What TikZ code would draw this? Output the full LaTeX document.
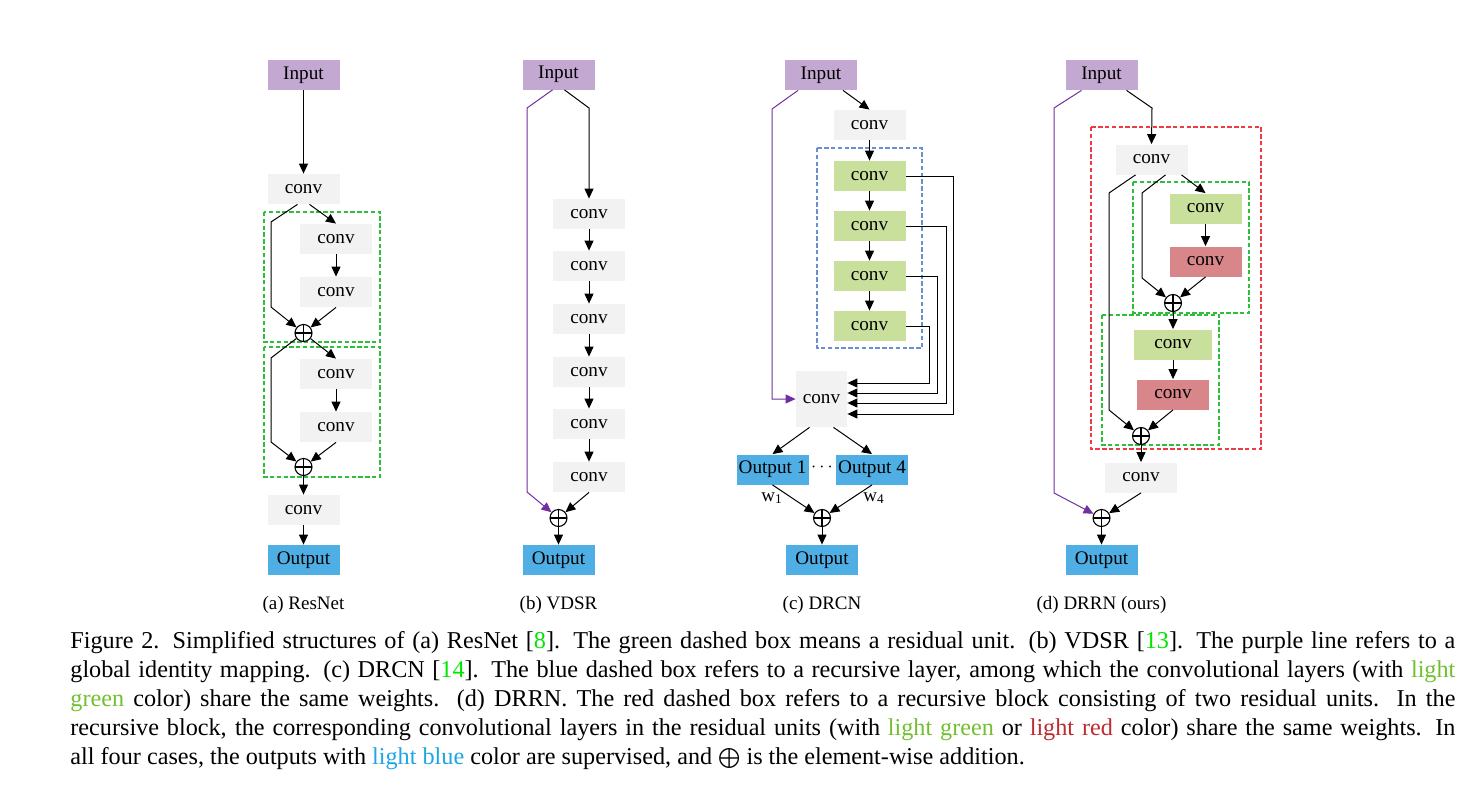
\documentclass[tikz,border=0pt]{standalone}
\usepackage{fontspec}
\setmainfont{Liberation Serif}
\usetikzlibrary{arrows.meta}
\definecolor{inputc}{HTML}{C3A8D1}
\definecolor{convc}{HTML}{F2F2F2}
\definecolor{shgreen}{HTML}{C9E09C}
\definecolor{shred}{HTML}{D9868A}
\definecolor{outc}{HTML}{4FAEE3}
\definecolor{purp}{HTML}{7030A0}
\definecolor{unitgreen}{HTML}{2DBE3A}
\definecolor{layerblue}{HTML}{6A8FD0}
\definecolor{blockred}{HTML}{EE3B45}
\definecolor{refgreen}{HTML}{00E600}
\definecolor{txgreen}{HTML}{72BF2F}
\definecolor{txred}{HTML}{BE2A2E}
\definecolor{txblue}{HTML}{1FA5E6}
\tikzset{
  blk/.style={minimum width=36pt,minimum height=15pt,inner sep=0pt,font=\fontsize{9.6}{11}\selectfont},
  inbox/.style={blk,fill=inputc},
  convbox/.style={blk,fill=convc},
  gconv/.style={blk,fill=shgreen},
  rconv/.style={blk,fill=shred},
  outbox/.style={blk,fill=outc},
  addnode/.style={circle,draw,line width=0.55pt,minimum size=8.5pt,inner sep=0pt,
    path picture={\draw[line width=0.55pt] (path picture bounding box.north) -- (path picture bounding box.south)
      (path picture bounding box.west) -- (path picture bounding box.east);}},
  arr/.style={line width=0.5pt,-{Triangle[length=5pt,width=4.5pt]}},
  parr/.style={arr,draw=purp,-{Triangle[length=5pt,width=4.5pt,fill=purp]}},
  unitbox/.style={draw=unitgreen,line width=0.6pt,dash pattern=on 2.2pt off 1.2pt},
  layerbox/.style={draw=layerblue,line width=0.6pt,dash pattern=on 2.2pt off 1.2pt},
  blockbox/.style={draw=blockred,line width=0.6pt,dash pattern=on 2.2pt off 1.2pt},
  subcap/.style={anchor=base,font=\fontsize{9.5}{11}\selectfont},
  caption/.style={anchor=base west,inner sep=0pt,font=\fontsize{12.1}{14.5}\selectfont}
}
\newcommand{\capline}[1]{\makebox[692.5pt][s]{#1}}
\begin{document}
\begin{tikzpicture}[x=0.5pt,y=-0.5pt]
\useasboundingbox (0,0) rectangle (1476,787);

% ---------- (a) ResNet ----------
\draw[unitbox] (264,212) rectangle (380,342);
\draw[unitbox] (264,347) rectangle (380,477);
\node[inbox] (a_in) at (303.5,75) {Input};
\node[convbox] (a_c1) at (303.5,189) {conv};
\node[convbox] (a_c2) at (336,239) {conv};
\node[convbox] (a_c3) at (336,292) {conv};
\node[addnode] (a_p1) at (303.5,333) {};
\node[convbox] (a_c4) at (336,374) {conv};
\node[convbox] (a_c5) at (336,427) {conv};
\node[addnode] (a_p2) at (303.5,467) {};
\node[convbox] (a_c6) at (303.5,510) {conv};
\node[outbox] (a_out) at (303.5,560) {Output};
\draw[arr] (a_in) -- (a_c1);
\draw[arr] ([xshift=3pt]a_c1.south) -- (a_c2.north);
\draw[arr] ([xshift=-3pt]a_c1.south) -- (271,222) -- (271,307) -- (a_p1);
\draw[arr] (a_c2) -- (a_c3);
\draw[arr] (a_c3.south) -- (a_p1);
\draw[arr] (a_p1) -- (a_c4.north);
\draw[arr] (a_p1) -- (271,358) -- (271,442) -- (a_p2);
\draw[arr] (a_c4) -- (a_c5);
\draw[arr] (a_c5.south) -- (a_p2);
\draw[arr] (a_p2) -- (a_c6);
\draw[arr] (a_c6) -- (a_out);
\node[subcap] (a_cap) at (303.5,609) {(a) ResNet};

% ---------- (b) VDSR ----------
\node[inbox] (b_in) at (558.5,74.5) {Input};
\node[convbox] (b_c1) at (589,214) {conv};
\node[convbox] (b_c2) at (589,266) {conv};
\node[convbox] (b_c3) at (589,319) {conv};
\node[convbox] (b_c4) at (589,372) {conv};
\node[convbox] (b_c5) at (589,424) {conv};
\node[convbox] (b_c6) at (589,477) {conv};
\node[addnode] (b_p) at (558.5,518) {};
\node[outbox] (b_out) at (558.5,560) {Output};
\draw[arr] ([xshift=3pt]b_in.south) -- (589,108) -- (b_c1.north);
\draw[parr] ([xshift=-3pt]b_in.south) -- (527,108) -- (527,492) -- (b_p);
\draw[arr] (b_c1) -- (b_c2);
\draw[arr] (b_c2) -- (b_c3);
\draw[arr] (b_c3) -- (b_c4);
\draw[arr] (b_c4) -- (b_c5);
\draw[arr] (b_c5) -- (b_c6);
\draw[arr] (b_c6.south) -- (b_p);
\draw[arr] (b_p) -- (b_out);
\node[subcap] (b_cap) at (558.5,609) {(b) VDSR};

% ---------- (c) DRCN ----------
\draw[layerbox] (817,148) rectangle (922,348);
\node[inbox] (c_in) at (821,75) {Input};
\node[convbox] (c_c0) at (869.5,125) {conv};
\node[gconv] (c_g1) at (869.5,176) {conv};
\node[gconv] (c_g2) at (869.5,226) {conv};
\node[gconv] (c_g3) at (869.5,276) {conv};
\node[gconv] (c_g4) at (869.5,326) {conv};
\node[convbox,minimum width=25.5pt,minimum height=28pt] (c_big) at (821.5,399) {conv};
\node[outbox] (c_o1) at (772.5,469.5) {Output 1};
\node[outbox] (c_o4) at (872,469.5) {Output 4};
\node[font=\fontsize{9.5}{11}\selectfont,inner sep=0pt] (c_dots) at (822,467) {$\cdots$};
\node[addnode] (c_p) at (822,518) {};
\node[outbox] (c_out) at (822,560) {Output};
\draw[arr] ([xshift=11pt]c_in.south) -- (c_c0.north);
\draw[arr] (c_c0) -- (c_g1);
\draw[arr] (c_g1) -- (c_g2);
\draw[arr] (c_g2) -- (c_g3);
\draw[arr] (c_g3) -- (c_g4);
\draw[arr] (c_g1.east) -- (953,176) -- (953,414) -- ([yshift=-7.5pt]c_big.east);
\draw[arr] (c_g2.east) -- (946,226) -- (946,403) -- ([yshift=-2pt]c_big.east);
\draw[arr] (c_g3.east) -- (937,276) -- (937,393) -- ([yshift=3pt]c_big.east);
\draw[arr] (c_g4.east) -- (929,326) -- (929,383) -- ([yshift=8pt]c_big.east);
\draw[parr] ([xshift=-11.5pt]c_in.south) -- (772,109) -- (772,399) -- (c_big.west);
\draw[arr] ([xshift=-6pt]c_big.south) -- (c_o1.north);
\draw[arr] ([xshift=6pt]c_big.south) -- (c_o4.north);
\draw[arr] (c_o1.south) -- (c_p);
\draw[arr] (c_o4.south) -- (c_p);
\node[font=\fontsize{9.5}{11}\selectfont] (c_w1) at (772,498) {w\textsubscript{1}};
\node[font=\fontsize{9.5}{11}\selectfont] (c_w4) at (874,498) {w\textsubscript{4}};
\draw[arr] (c_p) -- (c_out);
\node[subcap] (c_cap) at (822,609) {(c) DRCN};

% ---------- (d) DRRN ----------
\draw[blockbox] (1091,127) rectangle (1261,449);
\draw[unitbox] (1133,182) rectangle (1249,313);
\draw[unitbox] (1102,315) rectangle (1219,445);
\node[inbox] (d_in) at (1101.5,75) {Input};
\node[convbox] (d_c0) at (1151.5,159.5) {conv};
\node[gconv] (d_g1) at (1205.5,208.5) {conv};
\node[rconv] (d_r1) at (1205.5,261.5) {conv};
\node[addnode] (d_p1) at (1173,303) {};
\node[gconv,minimum width=39pt] (d_g2) at (1173,344.5) {conv};
\node[rconv] (d_r2) at (1173,394.5) {conv};
\node[addnode] (d_p2) at (1141,436) {};
\node[convbox] (d_c3) at (1141,477.5) {conv};
\node[addnode] (d_p3) at (1101.5,518) {};
\node[outbox] (d_out) at (1101.5,560) {Output};
\draw[arr] ([xshift=12.5pt]d_in.south) -- (1152,108) -- (d_c0.north);
\draw[parr] ([xshift=-10pt]d_in.south) -- (1054,108) -- (1054,493) -- (d_p3);
\draw[arr] ([xshift=15pt]d_c0.south) -- (d_g1.north);
\draw[arr] ([xshift=7pt]d_c0.south) -- (1142,193) -- (1142,278) -- (d_p1);
\draw[arr] ([xshift=-8pt]d_c0.south) -- (1109,193) -- (1109,410) -- (d_p2);
\draw[arr] (d_g1) -- (d_r1);
\draw[arr] (d_r1.south) -- (d_p1);
\draw[arr] (d_p1) -- (d_g2);
\draw[arr] (d_g2) -- (d_r2);
\draw[arr] (d_r2.south) -- (d_p2);
\draw[arr] (d_p2) -- (d_c3);
\draw[arr] (d_c3.south) -- (d_p3);
\draw[arr] (d_p3) -- (d_out);
\node[subcap] (d_cap) at (1101.5,609) {(d) DRRN (ours)};

% ---------- caption ----------
\node[caption] (figcap) at (70,648) {\parbox[t]{692.5pt}{%
\capline{Figure 2. Simplified structures of (a) ResNet [\textcolor{refgreen}{8}]. The green dashed box means a residual unit. (b) VDSR [\textcolor{refgreen}{13}]. The purple line refers to a}\\
\capline{global identity mapping. (c) DRCN [\textcolor{refgreen}{14}]. The blue dashed box refers to a recursive layer, among which the convolutional layers (with \textcolor{txgreen}{light}}\\
\capline{\textcolor{txgreen}{green} color) share the same weights. (d) DRRN. The red dashed box refers to a recursive block consisting of two residual units. In the}\\
\capline{recursive block, the corresponding convolutional layers in the residual units (with \textcolor{txgreen}{light green} or \textcolor{txred}{light red} color) share the same weights. In}\\
all four cases, the outputs with \textcolor{txblue}{light blue} color are supervised, and $\bigoplus$ is the element-wise addition.}};
\end{tikzpicture}
\end{document}
